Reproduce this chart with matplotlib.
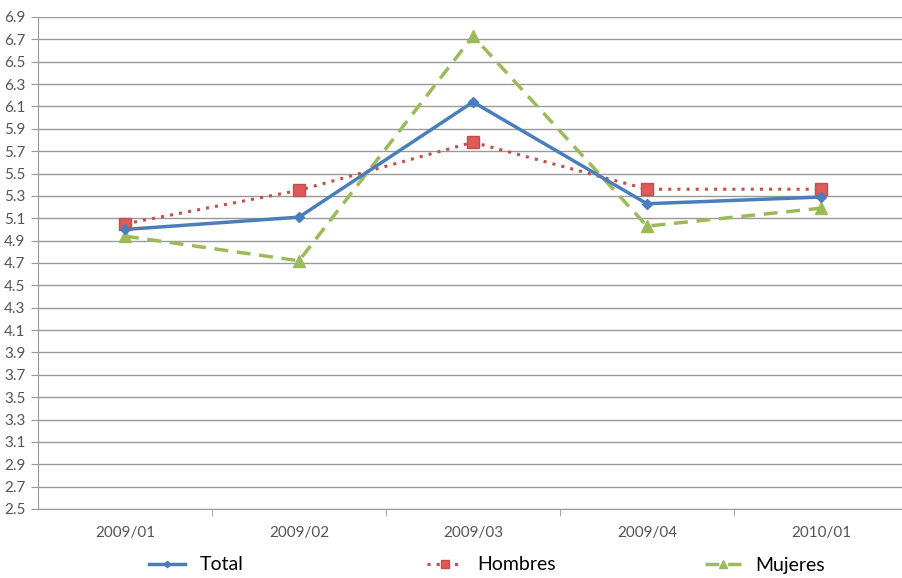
import numpy as np
from matplotlib import pyplot as plt

categories = ['2009/01', '2009/02', '2009/03', '2009/04', '2010/01']
total = [5.00, 5.11, 6.14, 5.23, 5.29]
hombres = [5.05, 5.35, 5.78, 5.36, 5.36]
mujeres = [4.94, 4.72, 6.73, 5.03, 5.19]
y_ticks = np.round(np.arange(2.5, 6.91, 0.2), 1)

plt.rcParams['font.family'] = ['Lato', 'DejaVu Sans']

fig = plt.figure(figsize=(9.02, 5.78), dpi=100)
ax = fig.add_axes([38 / 902, 1 - 509 / 578, 870 / 902, (509 - 17) / 578])

x = np.arange(len(categories))
l1, = ax.plot(x, total, color='#4a7ebb', lw=2.5, marker='D', ms=5, label='Total', zorder=4)
l2, = ax.plot(x, hombres, color='#c0504d', lw=2.2, ls=(0, (1, 2)), marker='s', ms=8,
              markerfacecolor='#e05a57', markeredgecolor='#c0504d', label='Hombres', zorder=3)
l3, = ax.plot(x, mujeres, color='#9bbb59', lw=2.5, ls=(0, (4, 2.5)), marker='^', ms=8,
              label='Mujeres', zorder=3)

ax.set_xlim(-0.5, len(categories) - 0.5)
ax.set_ylim(2.5, 6.9)
ax.set_yticks(y_ticks)
ax.set_yticklabels([f'{v:.1f}' for v in y_ticks])
ax.set_xticks(x)
ax.set_xticklabels(categories)
ax.set_xticks(x[:-1] + 0.5, minor=True)
ax.tick_params(axis='x', which='major', length=0, pad=12, labelsize=11, labelcolor='#555555')
ax.tick_params(axis='x', which='minor', length=5, color='#999999')
ax.tick_params(axis='y', length=5, color='#999999', pad=4, labelsize=11, labelcolor='#555555')

ax.grid(axis='y', color='#999999', lw=1)
ax.set_axisbelow(True)
for s in ['top', 'right']:
    ax.spines[s].set_visible(False)
ax.spines['left'].set_color('#999999')
ax.spines['bottom'].set_color('#999999')

# legend entries sit in equal-width slots, left aligned
for line, x_px in zip([l1, l2, l3], [149, 427, 705]):
    fig.legend(handles=[line], loc='center left',
               bbox_to_anchor=(x_px / 902, 1 - 565 / 578), frameon=False,
               fontsize=14, borderpad=0, borderaxespad=0, handlelength=1.85,
               handletextpad=0.75, markerscale=0.65)

fig.savefig('out.png', dpi=100)
